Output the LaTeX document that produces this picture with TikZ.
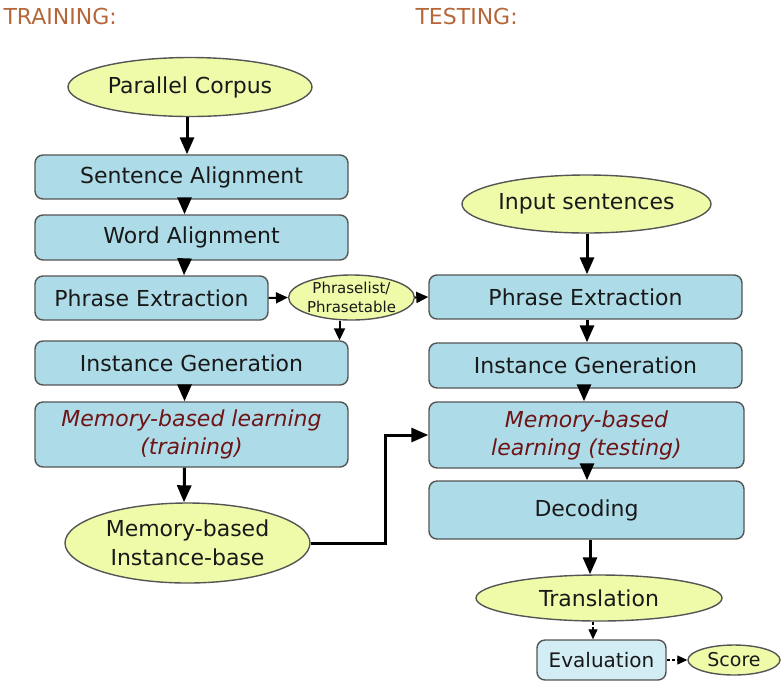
\documentclass[tikz,border=0pt]{standalone}
\usepackage{fontspec}
\setmainfont{DejaVu Sans}
\usetikzlibrary{shapes.geometric,arrows.meta,calc}

\definecolor{boxfill}{HTML}{ADDCE8}
\definecolor{evalfill}{HTML}{D2EDF4}
\definecolor{ovalfill}{HTML}{EFFBA9}
\definecolor{edgegray}{HTML}{555555}
\definecolor{headcol}{HTML}{B5673B}
\definecolor{mblred}{HTML}{6E1416}

\tikzset{
  stepbox/.style={draw=edgegray, line width=1.4pt, fill=boxfill, rounded corners=8pt,
    inner sep=0pt, align=center, font=\fontsize{22}{28}\selectfont, text=black!90},
  oval/.style={ellipse, draw=edgegray, line width=1.4pt, fill=ovalfill, inner sep=0pt,
    align=center, font=\fontsize{22}{29}\selectfont, text=black!90},
  mbltext/.style={font=\fontsize{22}{28}\selectfont\itshape, text=mblred},
  arr/.style={line width=3pt, -{Triangle[width=14pt,length=17pt]}},
  arrthin/.style={line width=2pt, -{Triangle[width=11pt,length=12pt]}},
  arrdash/.style={line width=1.1pt, dash pattern=on 3pt off 2pt, -{Triangle[width=9pt,length=10pt]}},
  heading/.style={anchor=west, font=\fontsize{22}{26}\selectfont, text=headcol},
}

\begin{document}
\begin{tikzpicture}[x=1pt, y=-1pt]
\useasboundingbox (0,0) rectangle (781,681);

% section headings
\node[heading] (htrain) at (0,16) {TRAINING:};
\node[heading] (htest) at (412,16) {TESTING:};

% training column
\node[oval, minimum width=244pt, minimum height=59pt] (pc) at (190,87) {Parallel Corpus};
\node[stepbox, minimum width=313pt, minimum height=44pt] (sa) at (191.5,177) {Sentence Alignment};
\node[stepbox, minimum width=313pt, minimum height=45pt] (wa) at (191.5,237.5) {Word Alignment};
\node[stepbox, minimum width=233pt, minimum height=44pt] (pel) at (151.5,298) {Phrase Extraction};
\node[oval, minimum width=119pt, minimum height=45pt, font=\fontsize{15}{19}\selectfont] (pl) at (351.5,297.5) {Phraselist/\\Phrasetable};
\node[stepbox, minimum width=313pt, minimum height=44pt] (igl) at (191.5,363) {Instance Generation};
\node[stepbox, minimum width=313pt, minimum height=65pt, mbltext] (mbl) at (191.5,434.5) {Memory-based learning\\(training)};
\node[oval, minimum width=245pt, minimum height=80pt] (ib) at (187.5,543) {Memory-based\\Instance-base};

% testing column
\node[oval, minimum width=247pt, minimum height=58pt] (is) at (586.5,204) {Input sentences};
\node[stepbox, minimum width=313pt, minimum height=44pt] (per) at (585.5,297) {Phrase Extraction};
\node[stepbox, minimum width=313pt, minimum height=45pt] (igr) at (585.5,365.5) {Instance Generation};
\node[stepbox, minimum width=315pt, minimum height=66pt, mbltext] (mbt) at (586.5,435) {Memory-based\\learning (testing)};
\node[stepbox, minimum width=315pt, minimum height=58pt] (dec) at (586.5,510) {Decoding};
\node[oval, minimum width=246pt, minimum height=46pt] (tr) at (599,598) {Translation};
\node[stepbox, fill=evalfill, minimum width=129pt, minimum height=40pt, font=\fontsize{20}{24}\selectfont] (ev) at (601.5,660) {Evaluation};
\node[oval, minimum width=92pt, minimum height=30pt, font=\fontsize{19}{22}\selectfont] (sc) at (734,660) {Score};

% training connectors
\draw[arr] ([xshift=-3pt]pc.south) -- ([xshift=-4.5pt]sa.north);
\draw[arr] ([xshift=-7pt]sa.south) -- ([xshift=-7pt]wa.north);
\draw[arr] ([xshift=-7pt]wa.south) -- ([xshift=32.5pt]pel.north);
\draw[arr] ([xshift=-7pt]igl.south) -- ([xshift=-7pt]mbl.north);
\draw[arr] ([xshift=-7pt]mbl.south) -- ([xshift=-3.5pt]ib.north);
\draw[arrthin] (pel.east) -- (pl.west);
\draw[arrthin] (pl.east) -- (per.west);
\draw[arrthin] ([xshift=-12pt]pl.south) -- ([xshift=-12pt]pl.south |- igl.north);
\draw[arr] (ib.east) -- ++(75,0) |- (mbt.west);

% testing connectors
\draw[arr] ([xshift=0.5pt]is.south) -- ([xshift=1.5pt]per.north);
\draw[arr] ([xshift=1.5pt]per.south) -- ([xshift=1.5pt]igr.north);
\draw[arr] ([xshift=-1.5pt]igr.south) -- ([xshift=-2.5pt]mbt.north);
\draw[arr] ([xshift=0.5pt]mbt.south) -- ([xshift=0.5pt]dec.north);
\draw[arr] ([xshift=3.5pt]dec.south) -- ([xshift=-9pt]tr.north);
\draw[arrdash] ([xshift=-6pt]tr.south) -- ([xshift=-6pt]tr.south |- ev.north);
\draw[arrdash] (ev.east) -- (sc.west);
\end{tikzpicture}
\end{document}
